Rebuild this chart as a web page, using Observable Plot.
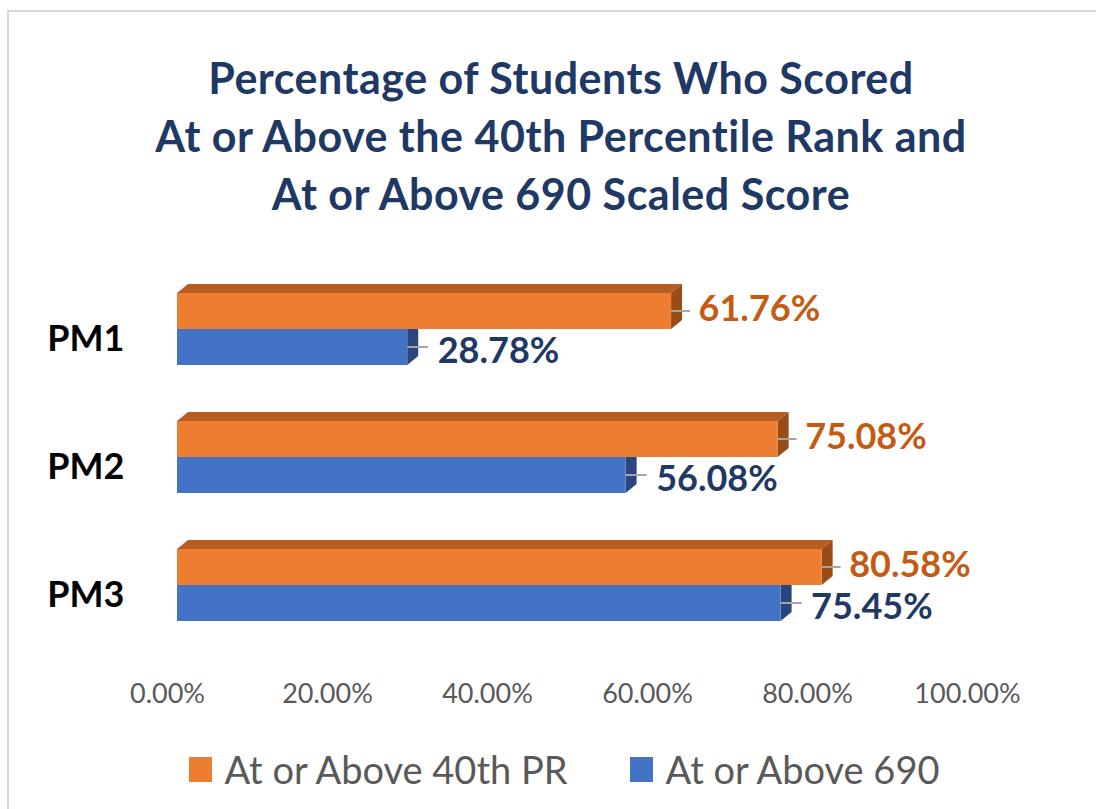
<!DOCTYPE html>
<html>
<head>
<meta charset="utf-8">
<script src="https://cdn.jsdelivr.net/npm/d3@7"></script>
<script src="https://cdn.jsdelivr.net/npm/@observablehq/plot@0.6"></script>
<style>
  body { margin: 0; background: #fff; }
  #wrap { position: relative; width: 1096px; height: 809px; overflow: hidden; font-family: Lato, "Open Sans", sans-serif; background: #fff; }
  #frame { position: absolute; left: 7px; top: 10px; width: 1300px; height: 1000px; border-left: 2px solid #d9d9d9; border-top: 2px solid #d9d9d9; }
  #chart { position: absolute; left: 0; top: 0; }
  #title { position: absolute; left: 0; top: 49px; width: 1122px; text-align: center; font-weight: 700; font-size: 43px; letter-spacing: 0.5px; line-height: 58px; color: #203864; }
  #legend { position: absolute; left: 0; top: 746px; width: 1128px; display: flex; justify-content: center; align-items: center; gap: 62px; font-size: 38px; color: #595959; }
  .item { display: flex; align-items: center; }
  .sw { width: 23px; height: 25px; margin-right: 13px; }
</style>
</head>
<body>
<div id="wrap">
  <div id="frame"></div>
  <div id="chart"></div>
  <div id="title"></div>
  <div id="legend"></div>
</div>
<script>
// ---- data ----
const titleLines = ["Percentage of Students Who Scored", "At or Above the 40th Percentile Rank and", "At or Above 690 Scaled Score"];
const categories = ["PM1", "PM2", "PM3"];
const seriesNames = ["At or Above 40th PR", "At or Above 690"];
const pr40 = [61.76, 75.08, 80.58];
const ss690 = [28.78, 56.08, 75.45];
const xTicks = [0, 20, 40, 60, 80, 100];

// ---- styles ----
const orange = "#ed7d31", orangeTop = "#b65e22", orangeSide = "#9a4c17";
const blue = "#4472c4", blueSide = "#2a467f";
const orangeText = "#c55a11", blueText = "#203864";
const DX = 11, DY = 9;

const rows = categories.map((c, i) => ({category: c, pr: pr40[i], ss: ss690[i]}));
const fmt = v => v.toFixed(2) + "%";

function bandwidthOf(y) { return typeof y.bandwidth === "function" ? y.bandwidth() : (y.bandwidth || 72); }

function depthFaces(index, scales) {
  const {x, y} = scales;
  const bw = bandwidthOf(y), half = bw / 2;
  const g = d3.create("svg:g");
  for (const r of rows) {
    const top = y(r.category);
    const x0 = x(0), xb = x(r.ss), xo = x(r.pr);
    // blue side face
    g.append("path").attr("fill", blueSide)
      .attr("d", `M${xb},${top + half}L${xb + DX},${top + half - DY}L${xb + DX},${top + bw - DY}L${xb},${top + bw}Z`);
    // orange top face
    g.append("path").attr("fill", orangeTop)
      .attr("d", `M${x0},${top}L${xo},${top}L${xo + DX},${top - DY}L${x0 + DX},${top - DY}Z`);
    // orange side face
    g.append("path").attr("fill", orangeSide)
      .attr("d", `M${xo},${top}L${xo + DX},${top - DY}L${xo + DX},${top + half - DY}L${xo},${top + half}Z`);
  }
  return g.node();
}

function leaders(index, scales) {
  const {x, y} = scales;
  const bw = bandwidthOf(y), q = bw / 4;
  const g = d3.create("svg:g").attr("stroke", "#a6a6a6").attr("stroke-width", 2);
  for (const r of rows) {
    const top = y(r.category);
    g.append("line").attr("x1", x(r.pr)).attr("x2", x(r.pr) + 19).attr("y1", top + q).attr("y2", top + q);
    g.append("line").attr("x1", x(r.ss)).attr("x2", x(r.ss) + 21).attr("y1", top + 3 * q).attr("y2", top + 3 * q);
  }
  return g.node();
}

const chart = Plot.plot({
  width: 1096,
  height: 809,
  marginLeft: 177,
  marginRight: 119,
  marginTop: 237,
  marginBottom: 132,
  style: {background: "transparent", fontFamily: "Lato, sans-serif"},
  x: {domain: [0, 100], label: null},
  y: {domain: categories, paddingInner: 0.4375, paddingOuter: 0.4375, label: null},
  marks: [
    depthFaces,
    Plot.barX(rows, {y: "category", x: "ss", fill: blue, insetTop: 36}),
    Plot.barX(rows, {y: "category", x: "pr", fill: orange, insetBottom: 36}),
    leaders,
    Plot.text(rows, {x: "pr", y: "category", text: d => fmt(d.pr), dx: 27, dy: -20, textAnchor: "start", fill: orangeText, fontSize: 36, fontWeight: "bold"}),
    Plot.text(rows, {x: "ss", y: "category", text: d => fmt(d.ss), dx: 30, dy: 22, textAnchor: "start", fill: blueText, fontSize: 36, fontWeight: "bold"}),
    Plot.axisX({ticks: xTicks, tickFormat: fmt, tickSize: 0, tickPadding: 6, fontSize: 27, fill: "#595959", dx: -10, label: null}),
    Plot.axisY({tickSize: 0, tickPadding: 53, fontSize: 36, fontWeight: "bold", fill: "#000", dy: 10, label: null})
  ]
});
document.getElementById("chart").appendChild(chart);

document.getElementById("title").innerHTML = titleLines.join("<br>");

const legendColors = [orange, blue];
const legend = document.getElementById("legend");
seriesNames.forEach((name, i) => {
  const item = document.createElement("div");
  item.className = "item";
  const sw = document.createElement("div");
  sw.className = "sw";
  sw.style.background = legendColors[i];
  const t = document.createElement("span");
  t.textContent = name;
  item.appendChild(sw);
  item.appendChild(t);
  legend.appendChild(item);
});
</script>
</body>
</html>
